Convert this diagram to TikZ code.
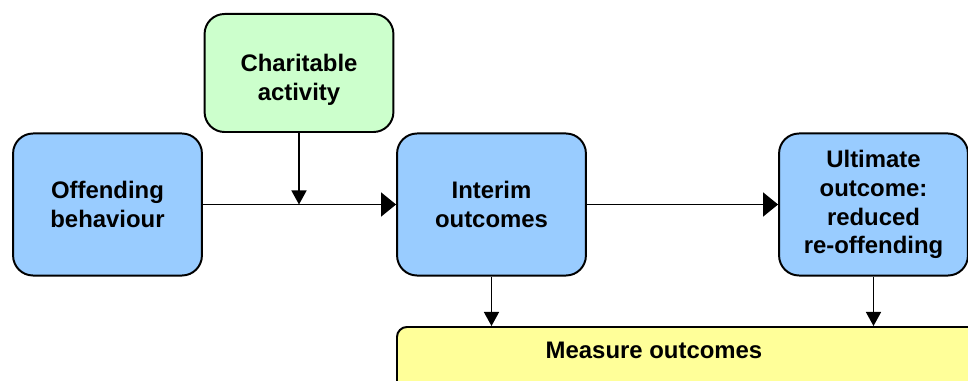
\documentclass[tikz,border=0pt]{standalone}
\usepackage{fontspec}
\setmainfont{Liberation Sans}
\usetikzlibrary{arrows.meta,positioning}
\definecolor{outcomeblue}{HTML}{99CCFF}
\definecolor{charitygreen}{HTML}{CCFFCC}
\definecolor{measureyellow}{HTML}{FFFF99}

\begin{document}
\begin{tikzpicture}[x=0.025cm, y=-0.025cm,
    box/.style={draw, line width=1.4pt, rounded corners=0.5cm, minimum width=4.72cm,
      minimum height=3.55cm, align=center, font=\fontsize{17}{20.5}\selectfont\bfseries},
    boxtext/.style={align=center, font=\fontsize{17}{20.5}\selectfont\bfseries},
    bigarrow/.style={-{Triangle[length=0.375cm,width=0.6cm]}, line width=1pt},
    smallarrow/.style={-{Triangle[length=0.35cm,width=0.375cm]}, line width=1pt}]
    \useasboundingbox (0,0) rectangle (968,381);
    % Boxes
    \node[box, fill=outcomeblue] (offending) at (107.5,204.5) {Offending\\behaviour};
    \node[box, fill=charitygreen, minimum height=2.95cm] (charity) at (299,73) {};
    \node[boxtext] (charitytext) at (299,80) {Charitable\\activity};
    \node[box, fill=outcomeblue] (interim) at (491.5,204.5) {Interim\\outcomes};
    \node[box, fill=outcomeblue] (ultimate) at (873.5,204.5) {Ultimate\\outcome:\\reduced\\re-offending};
    % Measure bar (runs off the page)
    \node[box, fill=measureyellow, rounded corners=0.25cm, minimum width=15cm,
      minimum height=2.5cm, anchor=north west] (measure) at (396,326) {};
    \node[boxtext, anchor=base] (measuretext) at (654,358) {Measure outcomes};
    % Join point on the main line
    \coordinate (join) at (charity.south |- offending.east);
    % Arrows
    \draw[bigarrow] (offending.east) -- (interim.west);
    \draw[smallarrow] (charity.south) -- (join);
    \draw[bigarrow] (interim.east) -- (ultimate.west);
    \draw[smallarrow] (interim.south) -- (interim.south |- measure.north);
    \draw[smallarrow] (ultimate.south) -- (ultimate.south |- measure.north);
\end{tikzpicture}
\end{document}
